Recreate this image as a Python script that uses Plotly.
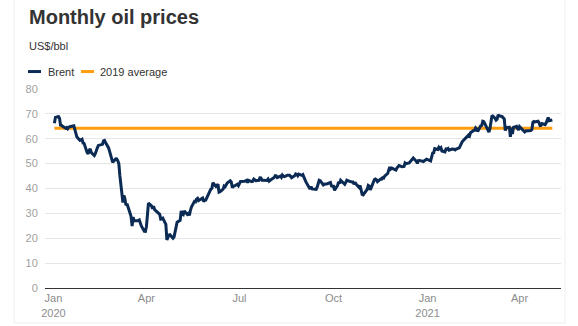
import plotly.graph_objects as go

# ---- Data (Brent, US$/bbl) ----
dates = [
    "2020-01-02","2020-01-03","2020-01-06","2020-01-07","2020-01-08","2020-01-09","2020-01-10","2020-01-13","2020-01-14","2020-01-15",
    "2020-01-16","2020-01-17","2020-01-21","2020-01-22","2020-01-23","2020-01-24","2020-01-27","2020-01-28","2020-01-29","2020-01-30",
    "2020-01-31","2020-02-03","2020-02-04","2020-02-05","2020-02-06","2020-02-07","2020-02-10","2020-02-11","2020-02-12","2020-02-13",
    "2020-02-14","2020-02-18","2020-02-19","2020-02-20","2020-02-21","2020-02-24","2020-02-25","2020-02-26","2020-02-27","2020-02-28",
    "2020-03-02","2020-03-03","2020-03-04","2020-03-05","2020-03-06","2020-03-09","2020-03-10","2020-03-11","2020-03-12","2020-03-13",
    "2020-03-16","2020-03-17","2020-03-18","2020-03-19","2020-03-20","2020-03-23","2020-03-24","2020-03-25","2020-03-26","2020-03-27",
    "2020-03-30","2020-03-31","2020-04-01","2020-04-02","2020-04-03","2020-04-06","2020-04-07","2020-04-08","2020-04-09","2020-04-14",
    "2020-04-15","2020-04-16","2020-04-17","2020-04-20","2020-04-21","2020-04-22","2020-04-23","2020-04-24","2020-04-27","2020-04-28",
    "2020-04-29","2020-04-30","2020-05-01","2020-05-04","2020-05-05","2020-05-06","2020-05-07","2020-05-08","2020-05-11","2020-05-12",
    "2020-05-13","2020-05-14","2020-05-15","2020-05-18","2020-05-19","2020-05-20","2020-05-21","2020-05-22","2020-05-26","2020-05-27",
    "2020-05-28","2020-05-29","2020-06-01","2020-06-02","2020-06-03","2020-06-04","2020-06-05","2020-06-08","2020-06-09","2020-06-10",
    "2020-06-11","2020-06-12","2020-06-15","2020-06-16","2020-06-17","2020-06-18","2020-06-19","2020-06-22","2020-06-23","2020-06-24",
    "2020-06-25","2020-06-26","2020-06-29","2020-06-30","2020-07-01","2020-07-02","2020-07-06","2020-07-07","2020-07-08","2020-07-09",
    "2020-07-10","2020-07-13","2020-07-14","2020-07-15","2020-07-16","2020-07-17","2020-07-20","2020-07-21","2020-07-22","2020-07-23",
    "2020-07-24","2020-07-27","2020-07-28","2020-07-29","2020-07-30","2020-07-31","2020-08-03","2020-08-04","2020-08-05","2020-08-06",
    "2020-08-07","2020-08-10","2020-08-11","2020-08-12","2020-08-13","2020-08-14","2020-08-17","2020-08-18","2020-08-19","2020-08-20",
    "2020-08-21","2020-08-24","2020-08-25","2020-08-26","2020-08-27","2020-08-28","2020-08-31","2020-09-01","2020-09-02","2020-09-03",
    "2020-09-04","2020-09-08","2020-09-09","2020-09-10","2020-09-11","2020-09-14","2020-09-15","2020-09-16","2020-09-17","2020-09-18",
    "2020-09-21","2020-09-22","2020-09-23","2020-09-24","2020-09-25","2020-09-28","2020-09-29","2020-09-30","2020-10-01","2020-10-02",
    "2020-10-05","2020-10-06","2020-10-07","2020-10-08","2020-10-09","2020-10-12","2020-10-13","2020-10-14","2020-10-15","2020-10-16",
    "2020-10-19","2020-10-20","2020-10-21","2020-10-22","2020-10-23","2020-10-26","2020-10-27","2020-10-28","2020-10-29","2020-10-30",
    "2020-11-02","2020-11-03","2020-11-04","2020-11-05","2020-11-06","2020-11-09","2020-11-10","2020-11-11","2020-11-12","2020-11-13",
    "2020-11-16","2020-11-17","2020-11-18","2020-11-19","2020-11-20","2020-11-23","2020-11-24","2020-11-25","2020-11-26","2020-11-27",
    "2020-11-30","2020-12-01","2020-12-02","2020-12-03","2020-12-04","2020-12-07","2020-12-08","2020-12-09","2020-12-10","2020-12-11",
    "2020-12-14","2020-12-15","2020-12-16","2020-12-17","2020-12-18","2020-12-21","2020-12-22","2020-12-23","2020-12-24","2020-12-28",
    "2020-12-29","2020-12-30","2020-12-31",
    "2021-01-04","2021-01-05","2021-01-06","2021-01-07","2021-01-08","2021-01-11","2021-01-12","2021-01-13","2021-01-14","2021-01-15",
    "2021-01-18","2021-01-19","2021-01-20","2021-01-21","2021-01-22","2021-01-25","2021-01-26","2021-01-27","2021-01-28","2021-01-29",
    "2021-02-01","2021-02-02","2021-02-03","2021-02-04","2021-02-05","2021-02-08","2021-02-09","2021-02-10","2021-02-11","2021-02-12",
    "2021-02-15","2021-02-16","2021-02-17","2021-02-18","2021-02-19","2021-02-22","2021-02-23","2021-02-24","2021-02-25","2021-02-26",
    "2021-03-01","2021-03-02","2021-03-03","2021-03-04","2021-03-05","2021-03-08","2021-03-09","2021-03-10","2021-03-11","2021-03-12",
    "2021-03-15","2021-03-16","2021-03-17","2021-03-18","2021-03-19","2021-03-22","2021-03-23","2021-03-24","2021-03-25","2021-03-26",
    "2021-03-29","2021-03-30","2021-03-31","2021-04-01","2021-04-06","2021-04-07","2021-04-08","2021-04-09","2021-04-12","2021-04-13",
    "2021-04-14","2021-04-15","2021-04-16","2021-04-19","2021-04-20","2021-04-21","2021-04-22","2021-04-23","2021-04-26","2021-04-27",
    "2021-04-28","2021-04-29","2021-04-30","2021-05-03",
]
brent = [
    66.25,68.60,68.91,68.27,65.44,65.37,64.98,64.20,64.49,64.00,
    64.62,64.85,65.20,63.21,62.04,60.69,59.32,59.51,59.81,58.29,
    58.16,54.45,53.96,55.28,55.93,54.47,53.27,54.01,55.79,56.34,
    57.32,57.75,59.12,59.31,58.50,56.30,54.95,53.43,51.17,50.52,
    51.90,51.86,51.13,49.99,45.27,34.36,37.22,35.79,33.22,33.85,
    30.05,28.73,24.88,28.47,26.98,27.03,27.15,27.39,26.34,24.93,
    22.76,22.74,24.74,29.94,34.11,33.05,31.87,32.84,31.48,29.60,
    27.69,27.82,28.08,25.57,19.33,20.37,21.33,21.44,19.99,20.46,
    22.54,25.27,26.44,27.20,30.97,29.72,29.46,30.97,29.63,29.98,
    29.19,31.13,32.50,34.81,34.65,35.75,36.06,35.13,36.17,34.74,
    35.29,35.33,38.32,39.57,39.79,39.99,42.30,40.80,41.18,41.73,
    38.55,38.73,39.72,40.96,40.71,41.51,42.19,43.08,42.63,40.31,
    41.05,41.02,41.71,41.15,42.03,42.80,42.90,43.08,43.29,42.35,
    43.24,42.72,42.90,43.79,43.37,43.14,43.28,44.32,44.29,43.31,
    43.34,43.41,43.22,43.75,42.94,43.30,44.15,44.43,45.17,45.09,
    44.40,44.99,44.50,45.43,44.96,44.80,45.37,45.46,45.37,44.90,
    44.35,45.13,45.86,45.64,45.09,45.81,45.28,45.58,44.43,44.07,
    42.66,39.78,40.79,39.83,39.83,39.61,40.53,42.22,43.30,43.15,
    41.44,41.72,41.77,41.94,41.92,42.43,41.03,40.95,40.93,39.27,
    41.29,42.65,41.99,43.34,42.85,41.72,42.45,43.32,43.16,42.93,
    42.62,42.62,41.73,42.46,41.77,40.46,41.20,39.12,37.65,37.46,
    38.97,39.71,41.23,40.93,39.45,42.40,43.61,43.80,43.53,42.78,
    43.82,43.75,44.34,44.20,44.96,46.06,47.86,48.61,47.80,48.18,
    47.59,47.42,48.25,48.71,49.25,48.79,48.84,48.86,50.25,49.97,
    50.29,50.76,51.08,51.50,52.26,50.91,50.08,51.20,51.29,50.86,
    51.09,51.34,51.80,
    51.09,53.60,54.30,54.38,55.99,55.66,56.58,56.06,56.42,55.10,
    54.75,55.90,55.79,56.10,55.41,55.88,55.91,55.81,55.53,55.88,
    56.35,57.46,58.46,58.84,59.34,60.56,61.09,61.47,61.14,62.43,
    63.30,63.35,64.34,63.93,62.91,65.24,65.37,67.04,66.88,66.13,
    63.69,62.70,64.07,66.74,69.36,68.24,67.52,67.90,69.63,69.22,
    68.88,68.39,68.00,63.28,64.53,64.62,60.79,64.41,61.95,64.57,
    64.98,64.14,63.54,64.86,62.74,63.16,63.20,62.95,63.28,63.67,
    66.58,66.94,66.77,67.05,66.57,65.32,65.40,66.11,65.65,66.42,
    67.27,68.56,67.25,67.56,
]
avg_2019 = 64.2
avg_dates = [dates[0], dates[-1]]
avg_values = [avg_2019, avg_2019]

series_names = ["Brent", "2019 average"]
series_colors = ["#0b2b55", "#ff9d0f"]

tick_vals = ["2020-01-01", "2020-04-01", "2020-07-01", "2020-10-01", "2021-01-01", "2021-04-01"]
tick_text = ["Jan<br>2020", "Apr", "Jul", "Oct", "Jan<br>2021", "Apr"]
y_ticks = [0, 10, 20, 30, 40, 50, 60, 70, 80]

title_text = "Monthly oil prices"
unit_text = "US$/bbl"

# ---- Geometry (pixels) ----
W, H = 578, 326
PL, PR, PT, PB = 45, 561, 88.5, 288
pw, ph = PR - PL, PB - PT

def px(x):
    return (x - PL) / pw

def py(y):
    return (PB - y) / ph

FONT = "Liberation Sans, Arial, sans-serif"

fig = go.Figure()
fig.add_trace(go.Scatter(x=avg_dates, y=avg_values, mode="lines", name=series_names[1],
                         line=dict(color=series_colors[1], width=3), showlegend=False,
                         hoverinfo="skip"))
fig.add_trace(go.Scatter(x=dates, y=brent, mode="lines", name=series_names[0],
                         line=dict(color=series_colors[0], width=3), showlegend=False))

shapes = []
annotations = []

# light outer border
shapes.append(dict(type="rect", xref="paper", yref="paper",
                   x0=px(14), x1=px(565), y0=py(323), y1=py(-3),
                   line=dict(color="#eeeeee", width=1), fillcolor="rgba(0,0,0,0)", layer="below"))

# manual legend
legend_y = 71
leg_items = [(28, 41, 46), (81, 94, 98)]
for (x0, x1, tx), name, col in zip(leg_items, series_names, series_colors):
    shapes.append(dict(type="line", xref="paper", yref="paper",
                       x0=px(x0), x1=px(x1), y0=py(legend_y), y1=py(legend_y),
                       line=dict(color=col, width=3)))
    annotations.append(dict(text=name, xref="paper", yref="paper", x=px(tx), y=py(legend_y),
                            xanchor="left", yanchor="middle", showarrow=False,
                            font=dict(family=FONT, size=11, color="#333333")))

annotations.append(dict(text=unit_text, xref="paper", yref="paper", x=px(27), y=py(45),
                        xanchor="left", yanchor="middle", showarrow=False,
                        font=dict(family=FONT, size=11, color="#333333")))
annotations.append(dict(text="<b>" + title_text + "</b>", xref="paper", yref="paper", x=px(27), y=py(16.5),
                        xanchor="left", yanchor="middle", showarrow=False,
                        font=dict(family=FONT, size=20, color="#333333")))

fig.update_layout(
    width=W, height=H,
    margin=dict(l=PL, r=W - PR, t=PT, b=H - PB, autoexpand=False),
    paper_bgcolor="white", plot_bgcolor="white",
    shapes=shapes, annotations=annotations,
    showlegend=False,
    font=dict(family=FONT, size=11, color="#333333"),
    xaxis=dict(
        type="date", automargin=False,
        range=["2019-12-23 19:00", "2021-05-11 12:00"],
        tickvals=tick_vals, ticktext=tick_text,
        showgrid=False, zeroline=False,
        showline=True, linecolor="#333333", linewidth=1,
        ticks="", tickfont=dict(family=FONT, size=11, color="#8c8c8c"),
    ),
    yaxis=dict(
        automargin=False,
        range=[0, 80], tickvals=y_ticks,
        showgrid=True, gridcolor="#e6e6e6", gridwidth=1,
        zeroline=False, showline=False,
        ticks="outside", ticklen=4, tickcolor="rgba(0,0,0,0)",
        tickfont=dict(family=FONT, size=11, color="#a0a0a0"),
    ),
)

fig.write_html("out.html")
